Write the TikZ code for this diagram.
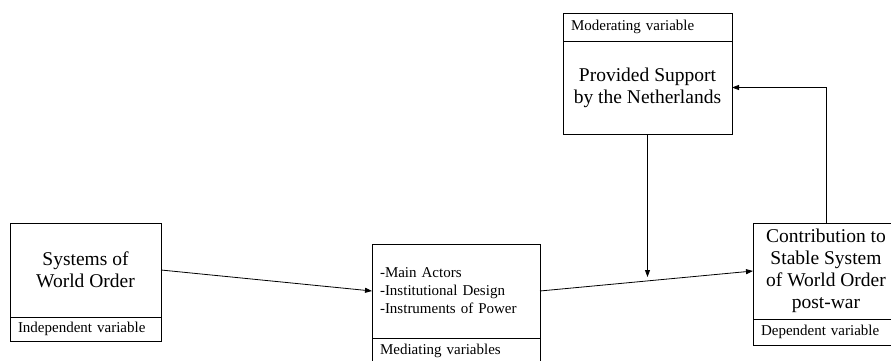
\documentclass[tikz,border=0pt]{standalone}
\usepackage{fontspec}
\setmainfont{Liberation Serif}
\usetikzlibrary{positioning, arrows.meta}

\begin{document}
\begin{tikzpicture}[
    x=1pt, y=-1pt,
    every node/.style={outer sep=0pt},
    box/.style={rectangle, draw, line width=0.8pt, inner sep=0pt, align=center, font=\fontsize{19.5}{22}\selectfont},
    tag/.style={rectangle, draw, line width=0.8pt, inner xsep=8pt, inner ysep=0pt, align=left, font=\fontsize{15}{17}\selectfont},
    arr/.style={-{Triangle[length=7pt, width=5pt]}, line width=0.8pt},
]
    \useasboundingbox (0,0) rectangle (891,361);

    % independent variable
    \node[box, minimum width=151pt, minimum height=94pt] (indep) at (85.5,270) {Systems of\\World Order};
    \node[tag, text width=135pt, minimum height=24pt, below=0pt of indep] (indeplbl) {Independent variable};

    % mediating variables
    \node[box, minimum width=168pt, minimum height=94pt, inner xsep=8pt, text width=152pt, align=left,
          font=\fontsize{15}{18}\selectfont] (med) at (456,291) {-Main Actors\\-Institutional Design\\-Instruments of Power};
    \node[tag, text width=152pt, minimum height=26pt, below=0pt of med] (medlbl) {Mediating variables};

    % moderating variable
    \node[tag, text width=153pt, minimum height=28pt] (modlbl) at (647.5,27) {Moderating variable};
    \node[box, minimum width=169pt, minimum height=93pt, below=0pt of modlbl] (mod) {Provided Support\\by the Netherlands};

    % dependent variable
    \node[box, minimum width=146pt, minimum height=96pt] (dep) at (826,271) {Contribution to\\Stable System\\of World Order\\post-war};
    \node[tag, text width=130pt, minimum height=26pt, below=0pt of dep] (deplbl) {Dependent variable};

    \coordinate[below=143pt of mod.south] (meet);

    \draw[arr] (indep.east) -- (med.west);
    \draw[arr] (med.east) -- (dep.west);
    \draw[arr] (mod.south) -- (meet);
    \draw[arr] (dep.north) |- (mod.east);
\end{tikzpicture}
\end{document}
